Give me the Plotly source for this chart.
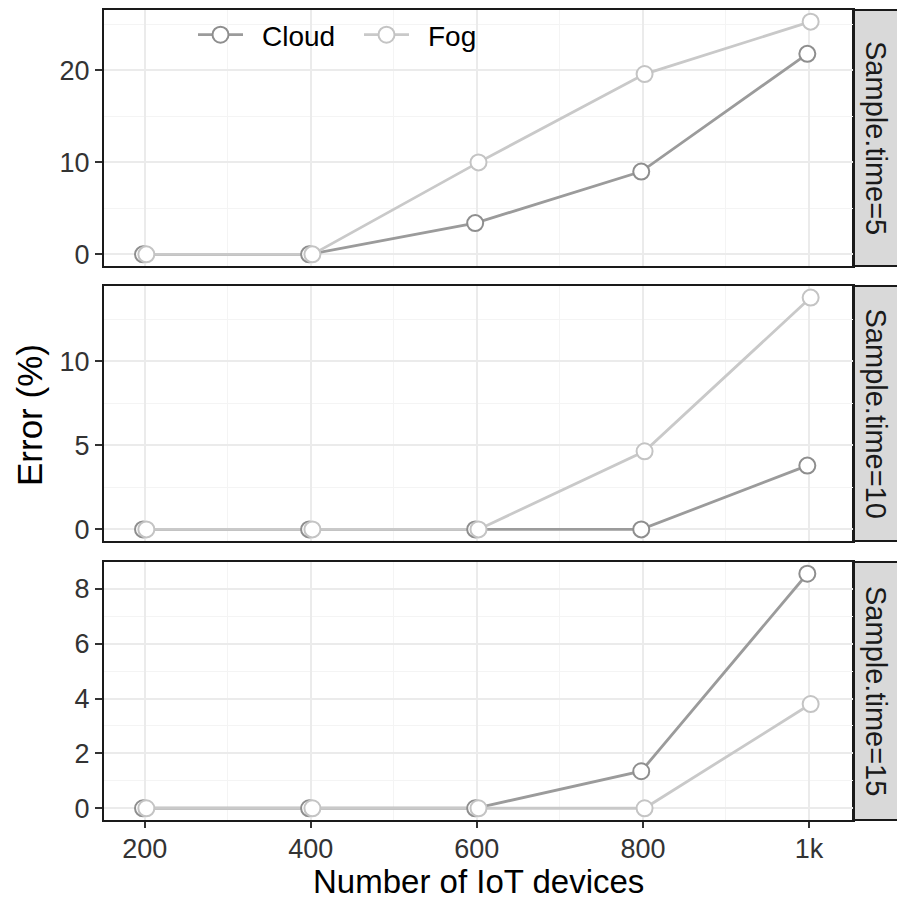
import plotly.graph_objects as go
from plotly.subplots import make_subplots

# ---- data ----
devices = [200, 400, 600, 800, 1000]
tick_labels = ["200", "400", "600", "800", "1k"]
panels = ["Sample.time=5", "Sample.time=10", "Sample.time=15"]
cloud_5 = [0, 0, 3.4, 9.0, 21.8]
fog_5 = [0, 0, 10.0, 19.6, 25.3]
cloud_10 = [0, 0, 0, 0, 3.8]
fog_10 = [0, 0, 0, 4.65, 13.8]
cloud_15 = [0, 0, 0, 1.35, 8.55]
fog_15 = [0, 0, 0, 0, 3.8]
y_major = [[0, 10, 20], [0, 5, 10], [0, 2, 4, 6, 8]]
y_minor = [[5, 15, 25], [2.5, 7.5, 12.5], [1, 3, 5, 7]]

cloud_series = [cloud_5, cloud_10, cloud_15]
fog_series = [fog_5, fog_10, fog_15]

CLOUD_COL = "#9B9B9B"
CLOUD_EDGE = "#8E8E8E"
FOG_COL = "#C9C9C9"
FOG_EDGE = "#C4C4C4"
FONT = "Liberation Sans, Arial, sans-serif"
DODGE = 2

W, H = 897, 902
ML, MR, MT, MB = 104, 44, 10, 82
PH = H - MT - MB
PW = W - ML - MR

# panel pixel extents (top, bottom)
panel_px = [(10, 266), (286, 541), (562, 820)]
domains = [[(H - MB - b) / PH, (H - MB - t) / PH] for (t, b) in panel_px]

fig = make_subplots(rows=3, cols=1, shared_xaxes=True, vertical_spacing=0.02)

for i in range(3):
    r = i + 1
    xc = [d - DODGE for d in devices]
    xf = [d + DODGE for d in devices]
    fig.add_trace(go.Scatter(x=xc, y=cloud_series[i], mode="lines",
                             line=dict(color=CLOUD_COL, width=2.8),
                             showlegend=False, hoverinfo="skip"), row=r, col=1)
    fig.add_trace(go.Scatter(x=xf, y=fog_series[i], mode="lines",
                             line=dict(color=FOG_COL, width=2.8),
                             showlegend=False, hoverinfo="skip"), row=r, col=1)
    fig.add_trace(go.Scatter(x=xc, y=cloud_series[i], mode="markers",
                             marker=dict(symbol="circle", size=16, color="white",
                                         line=dict(color=CLOUD_EDGE, width=2)),
                             showlegend=False), row=r, col=1)
    fig.add_trace(go.Scatter(x=xf, y=fog_series[i], mode="markers",
                             marker=dict(symbol="circle", size=16, color="white",
                                         line=dict(color=FOG_EDGE, width=2)),
                             showlegend=False), row=r, col=1)

# legend entries
fig.add_trace(go.Scatter(x=[None], y=[None], mode="lines+markers", name="\u2002Cloud",
                         line=dict(color=CLOUD_COL, width=2.8),
                         marker=dict(symbol="circle", size=16, color="white",
                                     line=dict(color=CLOUD_EDGE, width=2))), row=1, col=1)
fig.add_trace(go.Scatter(x=[None], y=[None], mode="lines+markers", name="\u2002Fog",
                         line=dict(color=FOG_COL, width=2.8),
                         marker=dict(symbol="circle", size=16, color="white",
                                     line=dict(color=FOG_EDGE, width=2))), row=1, col=1)

axis_common = dict(showline=True, linecolor="#1A1A1A", linewidth=2, mirror=True,
                   showgrid=True, gridcolor="#EBEBEB", gridwidth=1.6,
                   zeroline=False, automargin=False,
                   tickfont=dict(family=FONT, size=27, color="#333333"))

for i in range(3):
    r = i + 1
    all_vals = cloud_series[i] + fog_series[i]
    lo, hi = min(all_vals), max(all_vals)
    pad = 0.05 * (hi - lo)
    yname = "yaxis" if r == 1 else f"yaxis{r}"
    xname = "xaxis" if r == 1 else f"xaxis{r}"
    fig.layout[yname].update(
        domain=domains[i], range=[lo - pad, hi + pad],
        tickmode="array", tickvals=y_major[i], ticktext=[str(v) for v in y_major[i]],
        ticks="outside", ticklen=7, tickwidth=2, tickcolor="#333333",
        minor=dict(tickmode="array", tickvals=y_minor[i], showgrid=True,
                   gridcolor="#F4F4F4", gridwidth=0.9, ticks=""),
        **axis_common)
    xkw = dict(range=[151, 1053], tickmode="array", tickvals=devices, ticktext=tick_labels,
               minor=dict(tickmode="array", tickvals=[300, 500, 700, 900], showgrid=True,
                          gridcolor="#F4F4F4", gridwidth=0.9, ticks=""),
               **axis_common)
    if r == 3:
        xkw.update(ticks="outside", ticklen=6, tickwidth=2, tickcolor="#333333",
                   showticklabels=True, ticklabelstandoff=-2)
    else:
        xkw.update(ticks="", showticklabels=False)
    fig.layout[xname].update(**xkw)

# strips on the right
shapes = []
annotations = []
for i in range(3):
    r = i + 1
    yref = "y domain" if r == 1 else f"y{r} domain"
    shapes.append(dict(type="rect", xref="paper", yref=yref, x0=1.0, x1=1.1, y0=0, y1=1,
                       fillcolor="#D9D9D9", line=dict(color="#1A1A1A", width=2), layer="below"))
    annotations.append(dict(text=panels[i], xref="paper", yref=yref,
                            x=1.0 + 23 / PW, y=0.5, showarrow=False, textangle=90,
                            xanchor="center", yanchor="middle",
                            font=dict(family=FONT, size=29, color="#1A1A1A")))

annotations.append(dict(text="Number of IoT devices", xref="paper", yref="paper",
                        x=(478 - ML) / PW, y=-(H - (H - MB)) / PH, showarrow=False,
                        xanchor="center", yanchor="bottom",
                        font=dict(family=FONT, size=33, color="black")))
annotations.append(dict(text="Error (%)", xref="paper", yref="paper",
                        x=-(ML - 29) / PW, y=0.5, showarrow=False, textangle=-90,
                        xanchor="center", yanchor="middle",
                        font=dict(family=FONT, size=35, color="black")))

fig.update_layout(
    width=W, height=H,
    margin=dict(l=ML, r=MR, t=MT, b=MB, autoexpand=False),
    paper_bgcolor="white", plot_bgcolor="white",
    shapes=shapes, annotations=annotations,
    showlegend=True,
    legend=dict(orientation="h", x=(193 - ML) / PW, xanchor="left",
                y=(H - MB - 35) / PH, yanchor="middle",
                bgcolor="rgba(0,0,0,0)", borderwidth=0,
                itemwidth=45,
                entrywidth=106, entrywidthmode="pixels",
                font=dict(family=FONT, size=28, color="black")),
)

fig.write_html("out.html", config={"displayModeBar": False},
               post_script="document.body.style.margin='0';document.body.style.padding='0';")
